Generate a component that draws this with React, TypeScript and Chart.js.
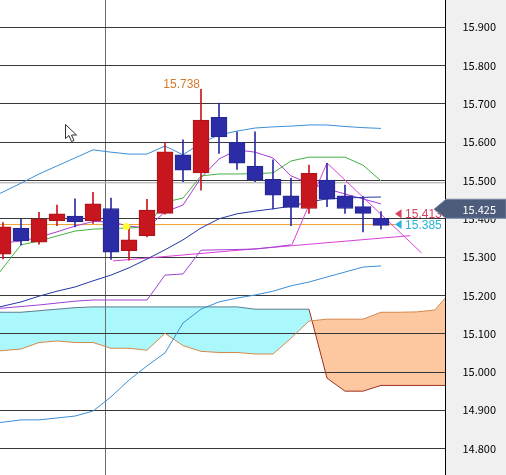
import React, { useEffect, useRef } from "react";
import { Chart, registerables } from "chart.js";

Chart.register(...registerables);

// ---- candles (index 0..21) ----
const opens = [15.308, 15.375, 15.339, 15.395, 15.407, 15.395, 15.427, 15.317, 15.356, 15.414, 15.567, 15.520, 15.665, 15.600, 15.538, 15.503, 15.460, 15.427, 15.501, 15.460, 15.432, 15.401];
const highs = [15.390, 15.399, 15.417, 15.436, 15.452, 15.469, 15.454, 15.375, 15.451, 15.599, 15.606, 15.738, 15.702, 15.627, 15.627, 15.554, 15.506, 15.540, 15.545, 15.488, 15.458, 15.419];
const lows = [15.295, 15.332, 15.334, 15.382, 15.379, 15.388, 15.294, 15.292, 15.353, 15.412, 15.497, 15.475, 15.571, 15.529, 15.497, 15.426, 15.382, 15.414, 15.432, 15.414, 15.366, 15.373];
const closes = [15.379, 15.342, 15.400, 15.413, 15.392, 15.439, 15.313, 15.345, 15.423, 15.575, 15.527, 15.658, 15.614, 15.545, 15.501, 15.462, 15.430, 15.519, 15.451, 15.427, 15.414, 15.383];

// Indicator series below start one bar before the first visible candle (index -1).
const SERIES_START = -1;

// ---- Bollinger bands ----
const bbUpper = [15.449, 15.470, 15.493, 15.517, 15.538, 15.559, 15.580, 15.574, 15.569, 15.569, 15.590, 15.567, 15.598, 15.619, 15.629, 15.637, 15.640, 15.642, 15.645, 15.645, 15.641, 15.638, 15.636];
const bbMiddle = [15.162, 15.172, 15.183, 15.198, 15.211, 15.222, 15.238, 15.253, 15.272, 15.295, 15.319, 15.345, 15.376, 15.400, 15.413, 15.420, 15.426, 15.433, 15.444, 15.452, 15.454, 15.456, 15.457];
const bbLower = [14.864, 14.869, 14.875, 14.875, 14.880, 14.885, 14.898, 14.935, 14.979, 15.016, 15.050, 15.128, 15.164, 15.183, 15.193, 15.201, 15.211, 15.225, 15.235, 15.248, 15.261, 15.274, 15.277];

// ---- other indicator lines ----
const greenLine = [15.212, 15.272, 15.332, 15.342, 15.355, 15.368, 15.373, 15.375, 15.376, 15.379, 15.444, 15.454, 15.512, 15.517, 15.517, 15.518, 15.520, 15.551, 15.561, 15.561, 15.561, 15.540, 15.499];
const violetLine = [15.332, 15.337, 15.342, 15.352, 15.366, 15.381, 15.393, 15.392, 15.381, 15.376, 15.418, 15.436, 15.507, 15.556, 15.580, 15.574, 15.559, 15.512, 15.493, 15.478, 15.465, 15.452, 15.439];
const stepLine = [15.163, 15.167, 15.171, 15.175, 15.180, 15.185, 15.188, 15.188, 15.188, 15.188, 15.253, 15.256, 15.318, 15.319, 15.320, 15.321, 15.326, 15.332];

// ---- cloud spans (index -1..25) ----
const spanA = [15.052, 15.056, 15.060, 15.077, 15.081, 15.077, 15.077, 15.062, 15.062, 15.057, 15.101, 15.069, 15.054, 15.051, 15.051, 15.047, 15.047, 15.088, 15.133, 15.138, 15.138, 15.138, 15.156, 15.156, 15.157, 15.162, 15.217];
const spanB = [15.156, 15.156, 15.156, 15.160, 15.164, 15.168, 15.170, 15.170, 15.170, 15.170, 15.170, 15.170, 15.170, 15.170, 15.170, 15.164, 15.164, 15.164, 15.164, 14.984, 14.950, 14.950, 14.965, 14.965, 14.965, 14.965, 14.965];

// ---- drawn trend lines [index, price] ----
const trendA = [[6.11, 15.290], [22.61, 15.356]];
const trendB = [[16.05, 15.332], [18, 15.546], [23.25, 15.311]];

// ---- levels and labels ----
const yTicks = [14.8, 14.9, 15.0, 15.1, 15.2, 15.3, 15.4, 15.5, 15.6, 15.7, 15.8, 15.9];
const sessionLineX = [5.68];
const grayLevel = 15.494;
const orangeLevel = 15.385;
const orangeEndX = 21.8;
const priceLabelX = 21.78;
const redLabelValue = 15.413;
const cyanLabelValue = 15.385;
const tagValue = 15.425;
const markerDot = { x: 6.85, y: 15.38 };

const X_MIN = -0.167;
const X_MAX = 24.556;
const Y_MIN = 14.7311;
const Y_MAX = 15.9713;

const RED = "#c8161e";
const RED_EDGE = "#a81418";
const BLUE = "#2c2ca6";
const BLUE_EDGE = "#24248e";
const AXIS_FAMILY = '"Noto Sans CJK JP", "Noto Sans", sans-serif';
const AXIS_SIZE = 11;
const LABEL_FONT = '"Liberation Sans", Arial, sans-serif';

const series = (arr: number[], start = 0) => arr.map((y, i) => ({ x: i + start, y }));
const pairs = (arr: number[][]) => arr.map(([x, y]) => ({ x, y }));

const lineDs = (label: string, data: any[], color: string, order: number, extra: any = {}) => ({
  type: "line" as const,
  label,
  data,
  borderColor: color,
  borderWidth: 1,
  pointRadius: 0,
  tension: 0,
  fill: false,
  order,
  ...extra,
});

const overlay = {
  id: "overlay",
  beforeDraw(chart: any) {
    const { ctx, chartArea, width, height } = chart;
    ctx.save();
    ctx.fillStyle = "#f0f0f0";
    ctx.fillRect(chartArea.right, 0, width - chartArea.right, height);
    ctx.restore();
  },
  afterDraw(chart: any) {
    const { ctx, chartArea, width } = chart;
    const xs = chart.scales.x;
    const ys = chart.scales.y;

    // highest high label
    let hi = 0;
    highs.forEach((h, i) => {
      if (h > highs[hi]) hi = i;
    });
    ctx.save();
    ctx.font = "12px " + LABEL_FONT;
    ctx.fillStyle = "#d47a2c";
    ctx.textAlign = "right";
    ctx.textBaseline = "alphabetic";
    ctx.fillText(highs[hi].toFixed(3), xs.getPixelForValue(hi) - 1, ys.getPixelForValue(highs[hi]) - 1);
    ctx.restore();

    // price labels with triangles (clipped to plot area)
    ctx.save();
    ctx.beginPath();
    ctx.rect(chartArea.left, chartArea.top, chartArea.right - chartArea.left, chartArea.bottom - chartArea.top);
    ctx.clip();
    const drawMark = (val: number, color: string) => {
      const y = ys.getPixelForValue(val);
      const x = xs.getPixelForValue(priceLabelX);
      ctx.fillStyle = color;
      ctx.beginPath();
      ctx.moveTo(x, y);
      ctx.lineTo(x + 6.5, y - 4.5);
      ctx.lineTo(x + 6.5, y + 4.5);
      ctx.closePath();
      ctx.fill();
      ctx.font = "12px " + LABEL_FONT;
      ctx.textAlign = "left";
      ctx.textBaseline = "middle";
      ctx.fillText(val.toFixed(3), x + 10, y + 1);
    };
    drawMark(redLabelValue, "#d8405e");
    drawMark(cyanLabelValue, "#2ab2dc");
    ctx.restore();

    // current price tag on the axis
    const ty = ys.getPixelForValue(tagValue);
    const r = chartArea.right;
    ctx.save();
    ctx.beginPath();
    ctx.moveTo(r - 11, ty);
    ctx.lineTo(r + 1, ty - 10);
    ctx.lineTo(width, ty - 10);
    ctx.lineTo(width, ty + 9);
    ctx.lineTo(r + 1, ty + 9);
    ctx.closePath();
    ctx.fillStyle = "#4e5c7c";
    ctx.fill();
    ctx.strokeStyle = "#7886a4";
    ctx.lineWidth = 1;
    ctx.stroke();
    ctx.fillStyle = "#ffffff";
    ctx.font = AXIS_SIZE + "px " + AXIS_FAMILY;
    ctx.textAlign = "left";
    ctx.textBaseline = "middle";
    ctx.fillText(tagValue.toFixed(3), r + 17.5, ty + 0.5);
    ctx.restore();

    // mouse cursor (screen artifact)
    ctx.save();
    ctx.translate(65.5, 124.5);
    ctx.beginPath();
    ctx.moveTo(0, 0);
    ctx.lineTo(0, 14);
    ctx.lineTo(3.5, 11);
    ctx.lineTo(6, 17);
    ctx.lineTo(8.5, 16);
    ctx.lineTo(6, 10.5);
    ctx.lineTo(11, 10.5);
    ctx.closePath();
    ctx.fillStyle = "#ffffff";
    ctx.fill();
    ctx.strokeStyle = "#303030";
    ctx.lineWidth = 1;
    ctx.stroke();
    ctx.restore();
  },
};

export default function App() {
  const canvasRef = useRef<HTMLCanvasElement | null>(null);

  useEffect(() => {
    document.body.style.margin = "0";
    const canvas = canvasRef.current;
    if (!canvas) return;

    const bodyColors = opens.map((o, i) => (closes[i] >= o ? RED : BLUE));
    const bodyEdges = opens.map((o, i) => (closes[i] >= o ? RED_EDGE : BLUE_EDGE));

    const datasets: any[] = [
      lineDs("gray", [{ x: X_MIN, y: grayLevel }, { x: X_MAX, y: grayLevel }], "#a0a0a0", 15),
      lineDs("orange", [{ x: X_MIN, y: orangeLevel }, { x: orangeEndX, y: orangeLevel }], "#f0a030", 15),
      lineDs("spanB", series(spanB, SERIES_START), "#5a7c8c", 20, {
        segment: { borderColor: (c: any) => (c.p0DataIndex >= 18 ? "#a0301c" : "#5a7c8c") },
      }),
      lineDs("spanA", series(spanA, SERIES_START), "#d4884c", 19, {
        fill: { target: 2, above: "rgba(253,200,160,1)", below: "rgba(170,248,252,1)" },
      }),
      lineDs("bbUpper", series(bbUpper, SERIES_START), "#3b8fd6", 10),
      lineDs("bbLower", series(bbLower, SERIES_START), "#3b8fd6", 10),
      lineDs("bbMiddle", series(bbMiddle, SERIES_START), "#2535a8", 10),
      lineDs("green", series(greenLine, SERIES_START), "#44b044", 10),
      lineDs("violet", series(violetLine, SERIES_START), "#a83cd4", 10),
      lineDs("step", series(stepLine, SERIES_START), "#a040d0", 10),
      lineDs("trendA", pairs(trendA), "#d840d8", 10),
      lineDs("trendB", pairs(trendB), "#d840d8", 10),
      {
        type: "bar",
        label: "wicks",
        data: lows.map((l, i) => ({ x: i, y: [l, highs[i]] })),
        backgroundColor: bodyColors,
        borderWidth: 0,
        barThickness: 1,
        grouped: false,
        order: 2,
      },
      {
        type: "bar",
        label: "bodies",
        data: opens.map((o, i) => ({ x: i, y: [o, closes[i]] })),
        backgroundColor: bodyColors,
        borderColor: bodyEdges,
        borderWidth: 1,
        borderSkipped: false,
        barThickness: 16,
        grouped: false,
        order: 1,
      },
      {
        type: "line",
        label: "marker",
        data: [markerDot],
        showLine: false,
        pointRadius: 3.5,
        pointBackgroundColor: "#ffff30",
        pointBorderWidth: 0,
        order: 0,
      },
    ];

    const chart = new Chart(canvas, {
      type: "bar",
      data: { datasets },
      plugins: [overlay],
      options: {
        animation: false,
        responsive: false,
        devicePixelRatio: 1,
        events: [],
        layout: { padding: 0, autoPadding: false },
        plugins: {
          legend: { display: false },
          tooltip: { enabled: false },
          filler: { drawTime: "beforeDraw" },
        },
        scales: {
          x: {
            type: "linear",
            min: X_MIN,
            max: X_MAX,
            offset: false,
            display: true,
            grid: { display: true, color: "#707070", lineWidth: 1, drawTicks: false, offset: false },
            border: { display: false },
            ticks: { display: false },
            afterBuildTicks: (s: any) => {
              s.ticks = sessionLineX.map((v) => ({ value: v }));
            },
            afterFit: (s: any) => {
              s.height = 0;
              s.paddingLeft = 0;
              s.paddingRight = 0;
              s.paddingTop = 0;
              s.paddingBottom = 0;
            },
          },
          y: {
            type: "linear",
            position: "right",
            min: Y_MIN,
            max: Y_MAX,
            beginAtZero: false,
            grid: { color: "#383838", lineWidth: 1, drawTicks: false },
            border: { display: true, color: "#000000", width: 1 },
            ticks: {
              color: "#000000",
              padding: 17.5,
              font: { family: AXIS_FAMILY, size: AXIS_SIZE },
              callback: (v: any) => Number(v).toFixed(3),
            },
            afterBuildTicks: (s: any) => {
              s.ticks = yTicks.map((v) => ({ value: v }));
            },
            afterFit: (s: any) => {
              s.width = 61;
              s.paddingTop = 0;
              s.paddingBottom = 0;
            },
          },
        },
      } as any,
    });

    return () => chart.destroy();
  }, []);

  return (
    <div style={{ position: "fixed", left: 0, top: 0, width: 506, height: 475, background: "#ffffff" }}>
      <canvas ref={canvasRef} width={506} height={475} style={{ display: "block", width: 506, height: 475 }} />
    </div>
  );
}
